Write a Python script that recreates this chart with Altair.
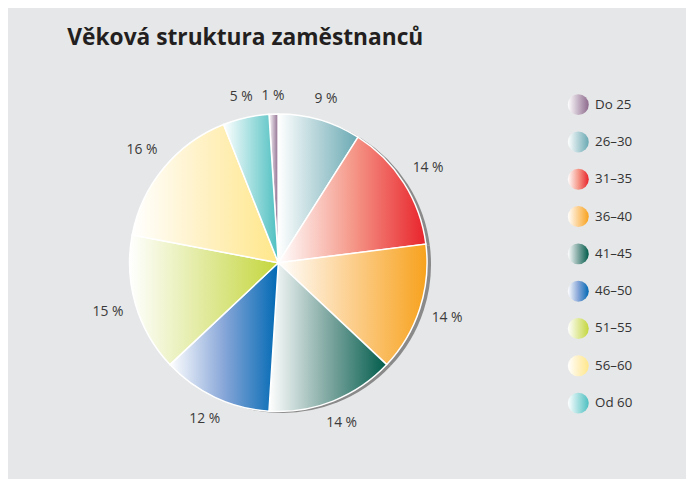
import math
import altair as alt
import pandas as pd

categories = ["Do 25", "26–30", "31–35", "36–40", "41–45", "46–50", "51–55", "56–60", "Od 60"]
values = [1, 9, 14, 14, 14, 12, 15, 16, 5]
colors = ["#8d6a8d", "#6aa9b3", "#e8232b", "#f7a21d", "#005c4b", "#0069b4", "#c4d63c", "#ffe78a", "#4dbfc0"]
mid_colors = ["#c5b3c5", "#b3d3d8", "#f5998a", "#fcce8c", "#80a8a2", "#87a6d8", "#e1ea9d", "#fff1c3", "#a5dfe0"]
labels = [f"{v} %" for v in values]

df = pd.DataFrame({"category": categories, "value": values, "label": labels,
                   "idx": list(range(len(categories)))})

total = sum(values)
rot = 2 * math.pi * values[0] / total
theta_scale = alt.Scale(domain=[0, total], range=[-rot, 2 * math.pi - rot])

CX, CY, R = 273.5, 255, 150.5
FONT = "Open Sans"

base = alt.Chart(df).transform_window(
    cum="sum(value)", sort=[alt.SortField("idx")], frame=[None, 0]
).transform_calculate(
    start="datum.cum - datum.value", mid="datum.cum - datum.value / 2"
).transform_calculate(
    ang=f"datum.mid / {total} * 2 * PI - {rot}"
).transform_calculate(
    lr="160 + 18 * abs(sin(datum.ang)) + 8 * abs(cos(datum.ang))"
)


def grad(c, m):
    return alt.Gradient(
        gradient="linear",
        stops=[alt.GradientStop(color="#ffffff", offset=0),
               alt.GradientStop(color=m, offset=0.5),
               alt.GradientStop(color=c, offset=1)],
        x1=0, x2=1, y1=0, y2=0,
    )


shadow = base.mark_arc(radius=R, fill="#8a8a8a").encode(
    theta=alt.Theta("start:Q", scale=theta_scale), theta2="cum:Q",
    x=alt.value(CX + 4), y=alt.value(CY + 1.5),
)

slices = []
for cat, col, mcol in zip(categories, colors, mid_colors):
    slices.append(
        base.transform_filter(alt.datum.category == cat).mark_arc(
            radius=R, fill=grad(col, mcol), stroke="#ffffff", strokeWidth=1.5
        ).encode(
            theta=alt.Theta("start:Q", scale=theta_scale), theta2="cum:Q",
            x=alt.value(CX), y=alt.value(CY),
        )
    )

pct = base.mark_text(fontSize=14, font=FONT, color="#3a3a3a",
                     align="center", baseline="middle").encode(
    theta=alt.Theta("mid:Q", scale=theta_scale),
    radius=alt.Radius("lr:Q", scale=None),
    text="label:N",
    x=alt.value(CX), y=alt.value(CY),
)

leg_y = alt.Y("category:N", sort=categories,
              scale=alt.Scale(type="point", range=[95, 397], padding=0), axis=None)

dots = []
for cat, col, mcol in zip(categories, colors, mid_colors):
    dots.append(
        base.transform_filter(alt.datum.category == cat).mark_point(
            filled=True, shape="circle", size=450, fill=grad(col, mcol), opacity=1, strokeWidth=0
        ).encode(x=alt.value(577), y=leg_y)
    )

leg_text = base.mark_text(align="left", baseline="middle", fontSize=13.5, font=FONT,
                          color="#333333").encode(
    x=alt.value(594), y=leg_y, text="category:N"
)

chart = alt.layer(shadow, *slices, pct, *dots, leg_text).properties(
    width=686, height=471,
    autosize=alt.AutoSizeParams(type="none"),
    padding={"left": 0, "top": 0, "right": 0, "bottom": 0},
    background="#e6e7e8",
    title=alt.Title("Věková struktura zaměstnanců", anchor="start", fontSize=23, font=FONT,
                    fontWeight="bold", color="#231f20", dx=60, dy=40, offset=0),
).configure_view(stroke=None)

chart.save("out.html", embed_options={"renderer": "svg", "actions": False})
